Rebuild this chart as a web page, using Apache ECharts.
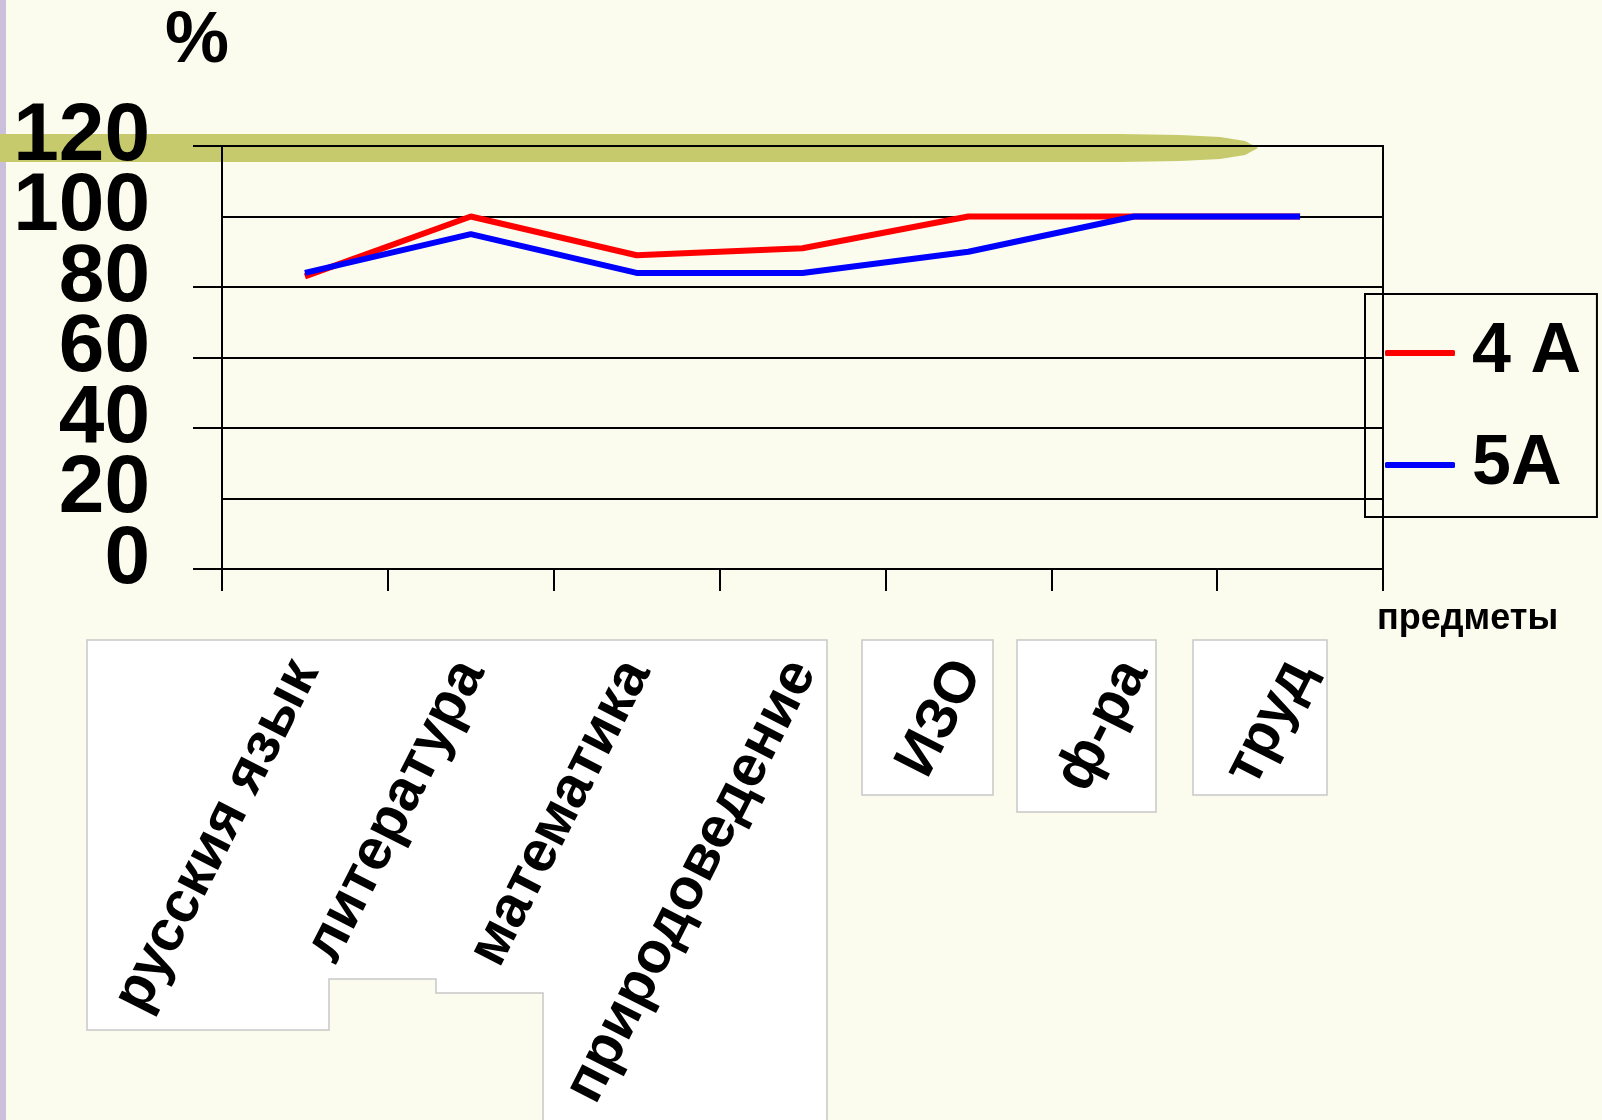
<!DOCTYPE html>
<html>
<head>
<meta charset="utf-8">
<script src="https://cdn.jsdelivr.net/npm/echarts@6/dist/echarts.min.js"></script>
<style>
html,body{margin:0;padding:0;background:#fbfbee;}
#c{width:1602px;height:1120px;}
</style>
</head>
<body>
<div id="c"></div>
<script>
const categories = ['русския язык', 'литература', 'математика', 'природоведение', 'ИЗО', 'ф-ра', 'труд'];
const seriesNames = ['4 A', '5A'];
const values4A = [83, 100, 89, 91, 100, 100, 100];
const values5A = [84, 95, 84, 84, 90, 100, 100];
const yMin = 0, yMax = 120, yStep = 20;
// tick labels that the first axis drops when large labels crowd its end labels
const yInnerLabels = [20, 100];

const chart = echarts.init(document.getElementById('c'), null, {renderer: 'canvas'});
const FONT = '"Liberation Sans", Arial, sans-serif';
const yLabelStyle = {margin: 72, fontFamily: FONT, fontWeight: 'bold', fontSize: 82, color: '#000', verticalAlign: 'bottom', lineHeight: 18};

chart.setOption({
  backgroundColor: '#fbfbee',
  animation: false,
  graphic: [
    {type: 'rect', z: -20, shape: {x: 0, y: 0, width: 6, height: 1120}, style: {fill: '#cbbfdc'}},
    {type: 'polygon', z: -20, shape: {points: [[0,134],[1120,134],[1180,135],[1220,137],[1245,141],[1258,148],[1245,155],[1220,159],[1180,161],[1120,162],[0,162]]}, style: {fill: '#c6ca6c'}},
    {type: 'polygon', z: -15, shape: {points: [[87,640],[827,640],[827,1122],[543,1122],[543,993],[436,993],[436,979],[329,979],[329,1030],[87,1030]]}, style: {fill: '#ffffff', stroke: '#c8c8c8', lineWidth: 1.5}},
    {type: 'rect', z: -15, shape: {x: 862, y: 640, width: 131, height: 155}, style: {fill: '#ffffff', stroke: '#c8c8c8', lineWidth: 1.5}},
    {type: 'rect', z: -15, shape: {x: 1017, y: 640, width: 139, height: 172}, style: {fill: '#ffffff', stroke: '#c8c8c8', lineWidth: 1.5}},
    {type: 'rect', z: -15, shape: {x: 1193, y: 640, width: 134, height: 155}, style: {fill: '#ffffff', stroke: '#c8c8c8', lineWidth: 1.5}}
  ],
  grid: {left: 222, top: 146, width: 1161, height: 423, show: true, borderColor: '#000', borderWidth: 2, backgroundColor: 'transparent'},
  legend: {
    orient: 'vertical', left: 1365, top: 294,
    padding: [24, 16, 17, 20],
    borderColor: '#000', borderWidth: 2,
    itemGap: 42, itemWidth: 70, itemHeight: 6, icon: 'roundRect',
    textStyle: {fontFamily: FONT, fontWeight: 'bold', fontSize: 70, lineHeight: 70, color: '#000', padding: [0, 0, 0, 12]},
    data: seriesNames
  },
  xAxis: {
    type: 'category', data: categories, boundaryGap: true,
    name: 'предметы', nameLocation: 'end', nameGap: -6,
    nameTextStyle: {fontFamily: FONT, fontWeight: 'bold', fontSize: 36, color: '#000', align: 'left', verticalAlign: 'top', lineHeight: 100},
    axisLine: {show: true, lineStyle: {color: '#000', width: 2}},
    axisTick: {show: true, length: 22, interval: 0, lineStyle: {color: '#000', width: 2}},
    axisLabel: {interval: 0, rotate: 63, margin: 95, fontFamily: FONT, fontWeight: 'bold', fontSize: 58, color: '#000'},
    splitLine: {show: false}
  },
  yAxis: [
    {
      type: 'value', min: yMin, max: yMax, interval: yStep, position: 'left',
      name: '%', nameLocation: 'end', nameGap: 104,
      nameTextStyle: {fontFamily: FONT, fontWeight: 'bold', fontSize: 72, color: '#000', align: 'center', verticalAlign: 'middle', padding: [0, 50, 0, 0]},
      axisLine: {show: true, lineStyle: {color: '#000', width: 2}},
      axisTick: {show: true, length: 29, lineStyle: {color: '#000', width: 2}},
      axisLabel: Object.assign({showMinLabel: true, showMaxLabel: true}, yLabelStyle),
      splitLine: {show: true, lineStyle: {color: '#000', width: 2}}
    },
    {
      type: 'value', min: yMin, max: yMax, interval: yStep, position: 'left', offset: 0,
      axisLine: {show: false}, axisTick: {show: false}, splitLine: {show: false},
      axisLabel: Object.assign({formatter: v => (yInnerLabels.indexOf(v) >= 0 ? String(v) : '')}, yLabelStyle)
    }
  ],
  series: [
    {name: seriesNames[0], type: 'line', yAxisIndex: 0, data: values4A, symbol: 'none', lineStyle: {color: '#ff0000', width: 6}, itemStyle: {color: '#ff0000'}, z: 3},
    {name: seriesNames[1], type: 'line', yAxisIndex: 0, data: values5A, symbol: 'none', lineStyle: {color: '#0000ff', width: 6}, itemStyle: {color: '#0000ff'}, z: 4}
  ]
});
</script>
</body>
</html>
